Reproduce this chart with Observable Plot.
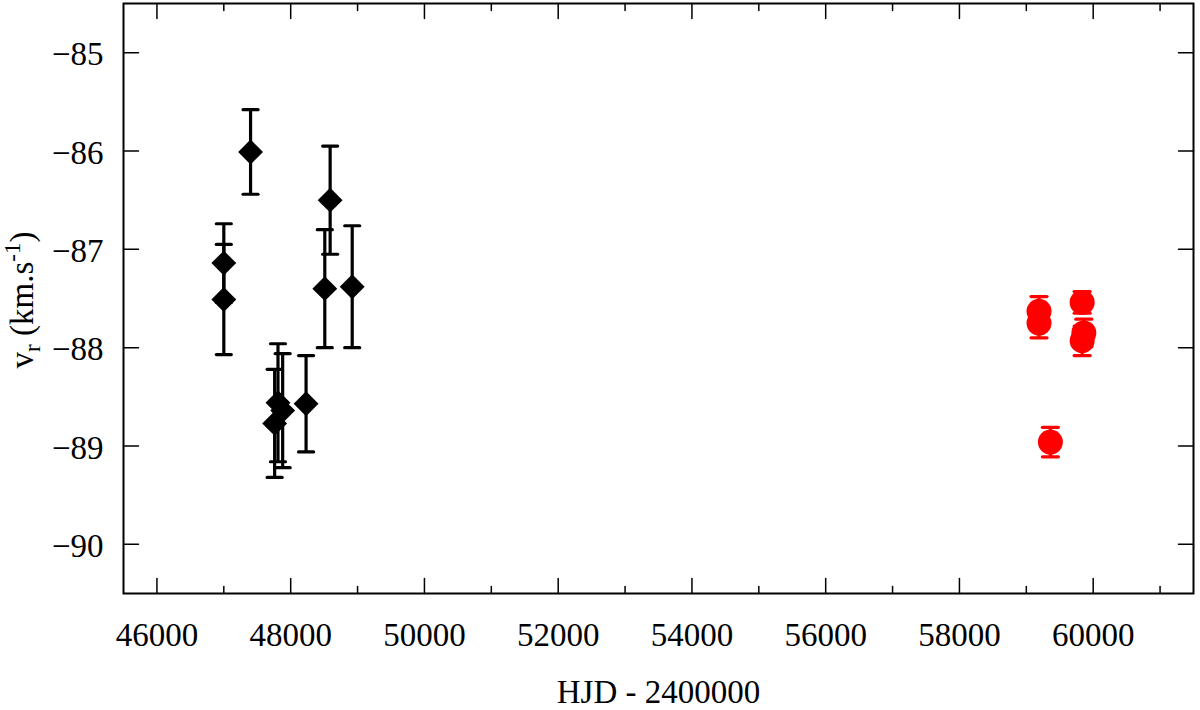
<!DOCTYPE html>
<html>
<head>
<meta charset="utf-8">
<script src="https://cdn.jsdelivr.net/npm/d3@7"></script>
<script src="https://cdn.jsdelivr.net/npm/@observablehq/plot@0.6"></script>
<style>
  html, body { margin: 0; padding: 0; background: #fff; }
</style>
</head>
<body>
<div id="chart"></div>
<script>
// ---- data ----
const blackHJD = [47000, 47000, 47400, 47760, 47810, 47880, 48230, 48510, 48590, 48920];
const blackVr  = [-87.14, -87.51, -86.01, -88.77, -88.56, -88.64, -88.57, -87.40, -86.50, -87.38];
const blackErr = [0.40, 0.56, 0.43, 0.55, 0.60, 0.58, 0.49, 0.60, 0.55, 0.62];

const redHJD = [59190, 59190, 59835, 59860, 59835, 59360];
const redVr  = [-87.63, -87.75, -87.54, -87.85, -87.93, -88.96];
const redErr = [0.15, 0.15, 0.11, 0.14, 0.15, 0.15];

const xMajorTicks = [46000, 48000, 50000, 52000, 54000, 56000, 58000, 60000];
const xMinorTicks = [47000, 49000, 51000, 53000, 55000, 57000, 59000, 61000];
const yTicks = [-85, -86, -87, -88, -89, -90];
const xDomain = [45500, 61500];
const yDomain = [-90.5, -84.5];
const xLabel = "HJD - 2400000";

const black = blackHJD.map((x, i) => ({x, y: blackVr[i], e: blackErr[i]}));
const red = redHJD.map((x, i) => ({x, y: redVr[i], e: redErr[i]}));

const line = {draw(ctx, l) { ctx.moveTo(0, 0); ctx.lineTo(0, -l); }};

const tickMarks = (ticks, len, sw) => [
  Plot.vector(ticks, {x: d => d, frameAnchor: "bottom", rotate: 0, length: len, anchor: "start", shape: line, stroke: "black", strokeWidth: sw}),
  Plot.vector(ticks, {x: d => d, frameAnchor: "top", rotate: 180, length: len, anchor: "start", shape: line, stroke: "black", strokeWidth: sw})
];

const errMarks = (data, color, capLen) => [
  Plot.ruleX(data, {x: "x", y1: d => d.y - d.e, y2: d => d.y + d.e, stroke: color, strokeWidth: 3.2}),
  Plot.vector(data, {x: "x", y: d => d.y - d.e, rotate: 90, length: capLen, anchor: "middle", shape: line, stroke: color, strokeWidth: 3.2}),
  Plot.vector(data, {x: "x", y: d => d.y + d.e, rotate: 90, length: capLen, anchor: "middle", shape: line, stroke: color, strokeWidth: 3.2})
];

const svg = Plot.plot({
  width: 1200,
  height: 710,
  marginTop: 3,
  marginBottom: 117,
  marginLeft: 123,
  marginRight: 7,
  style: {fontFamily: "'Liberation Serif', 'Times New Roman', serif", fontSize: "33px", color: "black", background: "white"},
  x: {domain: xDomain, label: null},
  y: {domain: yDomain, label: null},
  marks: [
    // tick marks (inward)
    ...tickMarks(xMajorTicks, 15, 1.5),
    ...tickMarks(xMinorTicks, 7, 1.5),
    Plot.vector(yTicks, {y: d => d, frameAnchor: "left", rotate: 90, length: 15, anchor: "start", shape: line, stroke: "black", strokeWidth: 1.5}),
    Plot.vector(yTicks, {y: d => d, frameAnchor: "right", rotate: -90, length: 15, anchor: "start", shape: line, stroke: "black", strokeWidth: 1.5}),
    // tick labels
    Plot.axisX(xMajorTicks, {anchor: "bottom", tickSize: 0, tickPadding: 29, tickFormat: d3.format("d"), label: null, fill: "black"}),
    Plot.axisY(yTicks, {anchor: "left", tickSize: 0, tickPadding: 20, dy: 2, tickFormat: d => (d < 0 ? "\u2212" : "") + Math.abs(d), label: null, fill: "black"}),
    // axis title
    Plot.text([xLabel], {frameAnchor: "bottom", dy: 99, text: d => d, lineAnchor: "middle", fill: "black", fontSize: 33}),
    // black series
    ...errMarks(black, "black", 15),
    Plot.dot(black, {x: "x", y: "y", symbol: "diamond2", r: 11.2, fill: "black", stroke: "none"}),
    // red series
    ...errMarks(red, "#ff0000", 16),
    Plot.dot(red, {x: "x", y: "y", symbol: "circle", r: 12.5, fill: "#ff0000", stroke: "none"}),
    Plot.frame({stroke: "black", strokeWidth: 2})
  ]
});

// y-axis title with subscript and superscript
const t = d3.select(svg).append("text")
  .attr("transform", "translate(33,300) rotate(-90)")
  .attr("text-anchor", "middle")
  .attr("font-family", "'Liberation Serif', 'Times New Roman', serif")
  .attr("font-size", 33)
  .attr("fill", "black")
  .style("white-space", "pre");
t.append("tspan").text("v");
t.append("tspan").attr("font-size", 23).attr("dy", 7).text("r");
t.append("tspan").attr("dy", -7).text("\u00A0(km.s");
t.append("tspan").attr("font-size", 23).attr("dy", -13).text("-1");
t.append("tspan").attr("dy", 13).text(")");

document.getElementById("chart").appendChild(svg);
</script>
</body>
</html>
